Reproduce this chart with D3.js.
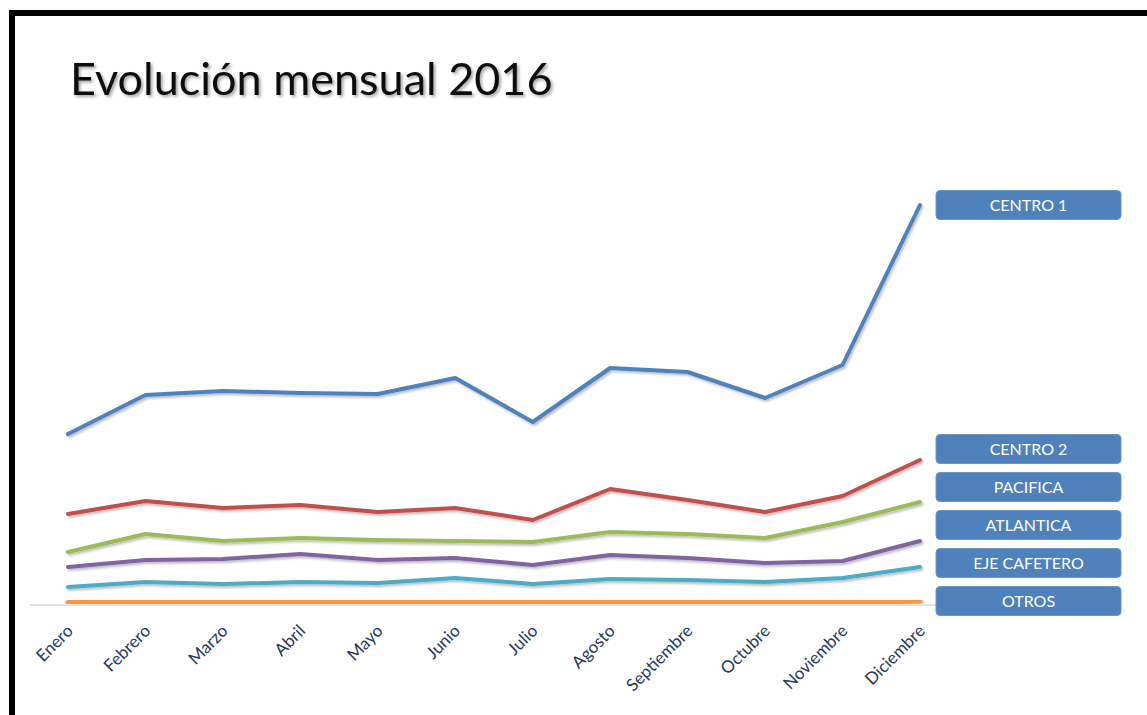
<!DOCTYPE html>
<html>
<head>
<meta charset="utf-8">
<style>
    body { margin: 0; background: #fff; }
    svg { display: block; }
    .title { font-family: Lato, "Open Sans", sans-serif; font-size: 45px; fill: #0d0d0d; }
    .month { font-family: Lato, "Open Sans", sans-serif; font-size: 17px; fill: #243a5e; }
    .legend-label { font-family: Lato, "Open Sans", sans-serif; font-size: 16px; fill: #fff; }
</style>
</head>
<body>
<svg width="1147" height="715"></svg>
<script src="https://d3js.org/d3.v7.min.js"></script>
<script>
    // months and series
    let months = ['Enero', 'Febrero', 'Marzo', 'Abril', 'Mayo', 'Junio', 'Julio',
        'Agosto', 'Septiembre', 'Octubre', 'Noviembre', 'Diciembre']

    let names = ['CENTRO 1', 'CENTRO 2', 'PACIFICA', 'ATLANTICA', 'EJE CAFETERO', 'OTROS']
    let colors = ['#4f81bd', '#c0504d', '#9bbb59', '#8064a2', '#4bacc6', '#f79646']

    let centro1 = [171, 210, 214, 212, 211, 227, 183, 237, 233, 207, 240, 400]
    let centro2 = [91, 104, 97, 100, 93, 97, 85, 116, 105, 93, 109, 145]
    let pacifica = [53, 71, 64, 67, 65, 64, 63, 73, 71, 67, 83, 103]
    let atlantica = [38, 45, 46, 51, 45, 47, 40, 50, 47, 42, 44, 64]
    let ejeCafetero = [18, 23, 21, 23, 22, 27, 21, 26, 25, 23, 27, 38]
    let otros = [2.5, 2.5, 2.5, 3, 2.5, 2.5, 2.5, 3, 2.5, 2.5, 2.5, 4]

    let series = [centro1, centro2, pacifica, atlantica, ejeCafetero, otros]

    let svg = d3.select("svg")

    let defs = svg.append("defs")
    defs.append("filter").attr("id", "shadow")
        .attr("x", "-10%").attr("y", "-20%").attr("width", "130%").attr("height", "160%")
        .append("feDropShadow")
        .attr("dx", 1.5).attr("dy", 2).attr("stdDeviation", 1.2)
        .attr("flood-color", "#000").attr("flood-opacity", 0.25)
    defs.append("filter").attr("id", "tshadow")
        .append("feDropShadow")
        .attr("dx", 2).attr("dy", 2).attr("stdDeviation", 1.5)
        .attr("flood-color", "#000").attr("flood-opacity", 0.35)

    // slide frame (top + left only)
    svg.append("path")
        .attr("d", "M12,715 L12,13 L1147,13")
        .attr("fill", "none")
        .attr("stroke", "#000")
        .attr("stroke-width", 6)

    svg.append("text")
        .attr("class", "title")
        .attr("x", 70)
        .attr("y", 95)
        .attr("filter", "url(#tshadow)")
        .text("Evolución mensual 2016")

    let x = d3.scalePoint()
        .domain(months)
        .range([68, 920])

    let y = d3.scaleLinear()
        .domain([0, 400])
        .range([605, 205])

    // baseline
    svg.append("line")
        .attr("x1", 30).attr("x2", 940)
        .attr("y1", y(0)).attr("y2", y(0))
        .attr("stroke", "#c8c8c8")
        .attr("stroke-width", 1.2)

    svg.selectAll(".month")
        .data(months)
        .join("text")
        .attr("class", "month")
        .attr("text-anchor", "end")
        .attr("transform", d => "translate(" + (x(d) + 6) + "," + (y(0) + 27) + ") rotate(-45)")
        .text(d => d)

    let line = d3.line()
        .x((d, i) => x(months[i]))
        .y(d => y(d))

    svg.append("g")
        .selectAll("path")
        .data(series.slice().reverse())
        .join("path")
        .attr("d", d => line(d))
        .attr("fill", "none")
        .attr("stroke", (d, i) => colors[series.length - 1 - i])
        .attr("stroke-width", (d, i) => i === 0 ? 5 : 4)
        .attr("stroke-linecap", "round")
        .attr("stroke-linejoin", "round")
        .attr("filter", "url(#shadow)")

    // legend boxes placed next to last value, pushed apart from the bottom
    let boxH = 29
    let gap = 38
    let centers = []
    for (let i = series.length - 1; i >= 0; i--) {
        let c = y(series[i][11])
        if (i < series.length - 1) c = Math.min(c, centers[i + 1] - gap)
        centers[i] = c
    }

    let legend = svg.append("g")
        .selectAll("g")
        .data(names)
        .join("g")
        .attr("transform", (d, i) => "translate(936," + (centers[i] - boxH / 2) + ")")

    legend.append("rect")
        .attr("width", 185)
        .attr("height", boxH)
        .attr("rx", 4)
        .attr("fill", "#4f81bd")
        .attr("stroke", "#6a95c8")
        .attr("stroke-width", 1)

    legend.append("text")
        .attr("class", "legend-label")
        .attr("x", 92.5)
        .attr("y", boxH / 2 + 5.5)
        .attr("text-anchor", "middle")
        .text(d => d)
</script>
</body>
</html>
